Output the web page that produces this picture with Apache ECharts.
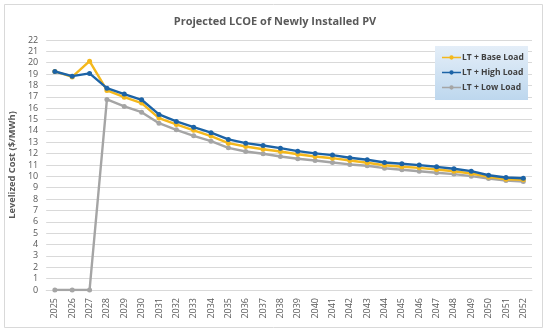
<!DOCTYPE html>
<html><head><meta charset="utf-8">
<script src="https://cdn.jsdelivr.net/npm/echarts@6/dist/echarts.min.js"></script>
<style>html,body{margin:0;padding:0;background:#fff}#c{width:550px;height:333px}</style>
</head><body><div id="c"></div>
<script>
var years = ['2025','2026','2027','2028','2029','2030','2031','2032','2033','2034','2035','2036','2037','2038','2039','2040','2041','2042','2043','2044','2045','2046','2047','2048','2049','2050','2051','2052'];
var baseLoad = [19.23,18.75,20.14,17.56,16.97,16.45,15.13,14.57,14.05,13.55,12.92,12.63,12.39,12.19,11.95,11.75,11.6,11.4,11.2,10.98,10.85,10.75,10.6,10.45,10.25,9.95,9.75,9.7];
var highLoad = [19.23,18.82,19.06,17.76,17.24,16.74,15.45,14.83,14.33,13.84,13.25,12.92,12.72,12.48,12.22,12.02,11.87,11.64,11.46,11.22,11.11,10.99,10.84,10.67,10.46,10.1,9.9,9.84];
var lowLoad = [0,0,0,16.77,16.15,15.65,14.68,14.1,13.57,13.1,12.51,12.19,11.99,11.75,11.55,11.4,11.22,11.05,10.93,10.72,10.58,10.45,10.32,10.2,10.02,9.81,9.64,9.55];
var seriesNames = ['LT + Base Load','LT + High Load','LT + Low Load'];
var colors = ['#F4B81C','#1C63A6','#A5A5A5'];

var chart = echarts.init(document.getElementById('c'), null, {renderer:'canvas'});
var font = '"Open Sans", "Liberation Sans", sans-serif';
var legendIcon = 'path://M0,3.2L22,3.2L22,4.8L0,4.8Z M13.5,4A2.5,2.5 0 1 1 8.5,4A2.5,2.5 0 1 1 13.5,4Z';
function mk(name, data, color, z) {
  return {name:name, type:'line', data:data, z:z, symbol:'circle', symbolSize:5,
    lineStyle:{color:color, width:2.4}, itemStyle:{color:color}, animation:false};
}
chart.setOption({
  animation:false,
  title:{text:'Projected LCOE of Newly Installed PV', left:'center', top:11,
    textStyle:{fontFamily:font, fontSize:11, fontWeight:'bold', color:'#595959'}},
  graphic:[
    {type:'rect', shape:{x:4.5,y:4.5,width:538,height:323}, style:{fill:'none', stroke:'#D9D9D9', lineWidth:1}, z:0},
    {type:'rect', shape:{x:435,y:46,width:93,height:54}, style:{fill:new echarts.graphic.LinearGradient(0,0,0,1,[{offset:0,color:'#E4EEF8'},{offset:1,color:'#BDD7EE'}])}, z:5}
  ],
  legend:{data:seriesNames.map(function(n){return {name:n, icon:legendIcon};}), orient:'vertical', left:437, top:48, itemGap:6, itemWidth:19, itemHeight:5,
    textStyle:{fontFamily:font, fontSize:8.5, fontWeight:'bold', color:'#404040', padding:[0,0,0,-4]}, z:6},
  grid:{left:45, right:18, top:40, bottom:43},
  xAxis:{type:'category', data:years, boundaryGap:true,
    axisLine:{lineStyle:{color:'#D9D9D9'}}, axisTick:{show:false},
    axisLabel:{rotate:90, fontFamily:font, fontSize:9, color:'#595959', margin:8}},
  yAxis:{type:'value', min:0, max:22, interval:1, name:'Levelized Cost ($/MWh)', nameLocation:'middle', nameGap:22,
    nameTextStyle:{fontFamily:font, fontSize:9.3, fontWeight:'bold', color:'#595959'},
    axisLine:{show:false}, axisTick:{show:false},
    axisLabel:{fontFamily:font, fontSize:9, color:'#595959', margin:8},
    splitLine:{lineStyle:{color:'#D9D9D9'}}},
  series:[mk(seriesNames[0], baseLoad, colors[0], 3), mk(seriesNames[1], highLoad, colors[1], 4), mk(seriesNames[2], lowLoad, colors[2], 2)]
});
</script></body></html>
